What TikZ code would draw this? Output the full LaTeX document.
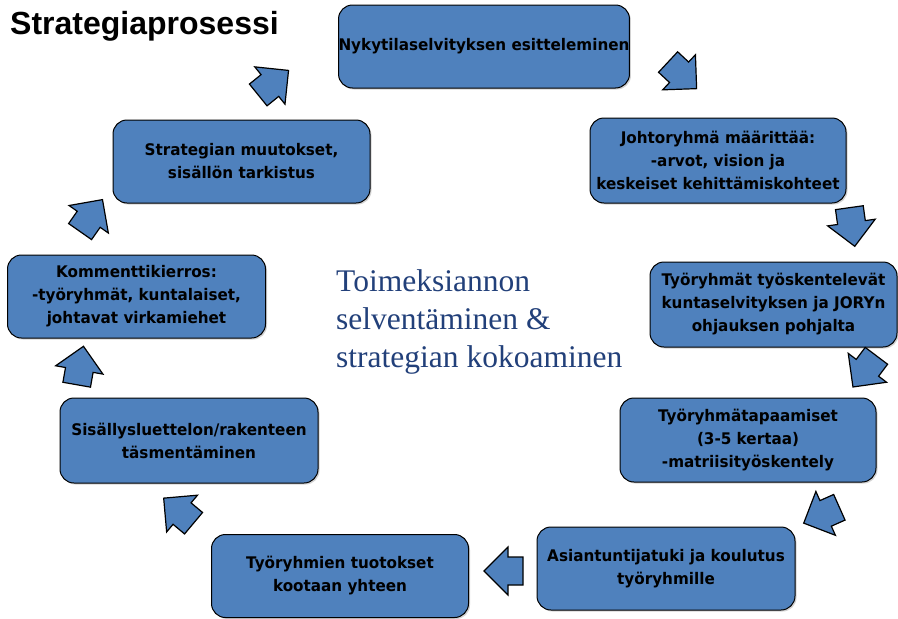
\documentclass[tikz,border=0pt]{standalone}
\usepackage{fontspec}
\usetikzlibrary{shadows}
\setmainfont{Liberation Serif}
\newfontfamily\titlefont{Liberation Sans}
\newfontfamily\boxfont{DejaVu Sans}[FakeStretch=0.95]
\definecolor{boxblue}{HTML}{4F81BD}
\definecolor{centerblue}{HTML}{22407A}
\tikzset{
  procbox/.style={draw=black, line width=1pt, fill=boxblue, rounded corners=14pt,
    inner sep=0pt, align=center, font=\boxfont\bfseries\fontsize{16}{23}\selectfont,
    drop shadow={shadow xshift=1.5pt, shadow yshift=-1.5pt, fill=black!35}},
  arrowshape/.style={draw=black, line width=1.2pt, fill=boxblue, line join=miter}
}
\newcommand\blockarr[3]{%
  \draw[arrowshape, shift={(#1,#2)}, rotate=#3]
    (-19,-14) -- (-4,-14) -- (-4,-24) -- (20,0) -- (-4,24) -- (-4,14) -- (-19,14) -- cycle;}
\begin{document}
\begin{tikzpicture}[x=1pt,y=-1pt]
\useasboundingbox (0,0) rectangle (898,619);
\fill[white] (0,0) rectangle (898,619);

\node[anchor=base west, inner sep=0pt, font=\titlefont\bfseries\fontsize{32}{36}\selectfont] (title) at (10,34) {Strategiaprosessi};

\node[procbox, minimum width=288pt, minimum height=83pt] (b1) at (484,46.5) {Nykytilaselvityksen esitteleminen};
\node[procbox, minimum width=256pt, minimum height=85pt] (b2) at (718,160.5) {Johtoryhmä määrittää:\\-arvot, vision ja\\keskeiset kehittämiskohteet};
\node[procbox, minimum width=247pt, minimum height=85pt] (b3) at (773.5,304.5) {Työryhmät työskentelevät\\kuntaselvityksen ja JORYn\\ohjauksen pohjalta};
\node[procbox, minimum width=256pt, minimum height=84pt] (b4) at (748,440) {Työryhmätapaamiset\\(3-5 kertaa)\\-matriisityöskentely};
\node[procbox, minimum width=258pt, minimum height=83pt] (b5) at (666,568.5) {Asiantuntijatuki ja koulutus\\työryhmille};
\node[procbox, minimum width=257pt, minimum height=83pt] (b6) at (340,576) {Työryhmien tuotokset\\kootaan yhteen};
\node[procbox, minimum width=258pt, minimum height=85pt] (b7) at (189,440.5) {Sisällysluettelon/rakenteen\\täsmentäminen};
\node[procbox, minimum width=258pt, minimum height=83pt] (b8) at (136.5,296.5) {Kommenttikierros:\\-työryhmät, kuntalaiset,\\johtavat virkamiehet};
\node[procbox, minimum width=257pt, minimum height=83pt] (b9) at (241.5,161.5) {Strategian muutokset,\\sisällön tarkistus};

\node[anchor=base west, inner sep=0pt, align=left, text=centerblue,
  font=\fontsize{31.5}{38}\selectfont] (center) at (336,367)
  {Toimeksiannon\\selventäminen \&\\strategian kokoaminen};

\blockarr{273}{83}{39}
\blockarr{682}{75}{-43}
\blockarr{852}{226.5}{-82}
\blockarr{865}{371}{-127}
\blockarr{822}{515}{-156}
\blockarr{504}{571}{180}
\blockarr{179}{511}{140}
\blockarr{80}{366}{80}
\blockarr{91}{216}{55}
\end{tikzpicture}
\end{document}
